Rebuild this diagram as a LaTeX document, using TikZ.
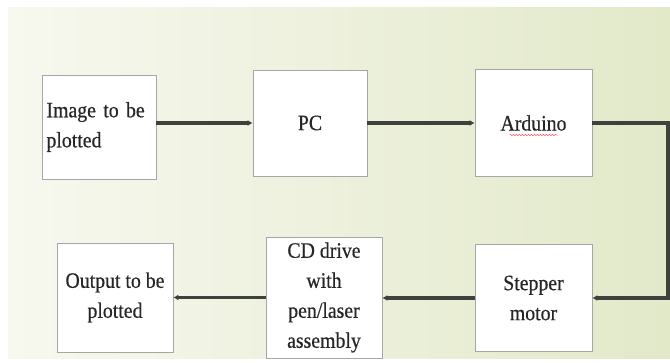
\documentclass[tikz,border=0pt]{standalone}
\usepackage{fontspec}
\setmainfont[FakeStretch=0.9, FakeBold=0.4]{Liberation Serif}
\usetikzlibrary{arrows.meta, decorations.pathmorphing}

\definecolor{bgleft}{HTML}{F7F8EF}
\definecolor{bgright}{HTML}{E2E9C9}
\definecolor{linegray}{HTML}{3F423C}

\begin{document}
\begin{tikzpicture}[x=1pt, y=1pt,
    block/.style={draw=gray!70, fill=white, line width=0.8pt, inner sep=4.5pt,
        align=center, font=\fontsize{22}{30}\selectfont, text=black!85},
    flow/.style={-{Latex[length=5pt,width=6pt]}, line width=3.2pt, linegray}]
    \useasboundingbox (0,0) rectangle (670,-362);
    \fill[white] (0,0) rectangle (670,-362);
    \shade[left color=bgleft, middle color=white, right color=bgright] (8,-7) rectangle (670,-358);
    \node[block, minimum width=114pt, minimum height=104pt, text width=105pt, align=left] (img) at (99,-127) {Image to be\\plotted};
    \node[block, minimum width=114pt, minimum height=106pt] (pc) at (310,-123) {PC};
    \node[block, minimum width=117pt, minimum height=107pt] (ard) at (533.5,-123) {Arduino};
    \node[block, minimum width=117pt, minimum height=107pt] (step) at (533.5,-298) {Stepper\\motor};
    \node[block, minimum width=116pt, minimum height=121pt] (cd) at (324,-297.5) {CD drive\\with\\pen/laser\\assembly};
    \node[block, minimum width=116pt, minimum height=109pt] (out) at (115,-297.5) {Output to be\\plotted};
    \coordinate (turn) at (668,-122);
    \draw[flow] (img.east |- pc.west) -- (pc.west);
    \draw[flow] (pc.east) -- (ard.west);
    \draw[flow] (ard.east) -- (ard.east -| turn) |- (step.east);
    \draw[flow] (step.west) -- (step.west -| cd.east);
    \draw[flow] (cd.west) -- (cd.west -| out.east);
    % spell-check mark under Arduino
    \draw[red!70, line width=0.5pt, decorate, decoration={snake, amplitude=0.6pt, segment length=3pt}]
        ([xshift=-24pt,yshift=-12pt]ard.center) -- ([xshift=24pt,yshift=-12pt]ard.center);
\end{tikzpicture}
\end{document}
